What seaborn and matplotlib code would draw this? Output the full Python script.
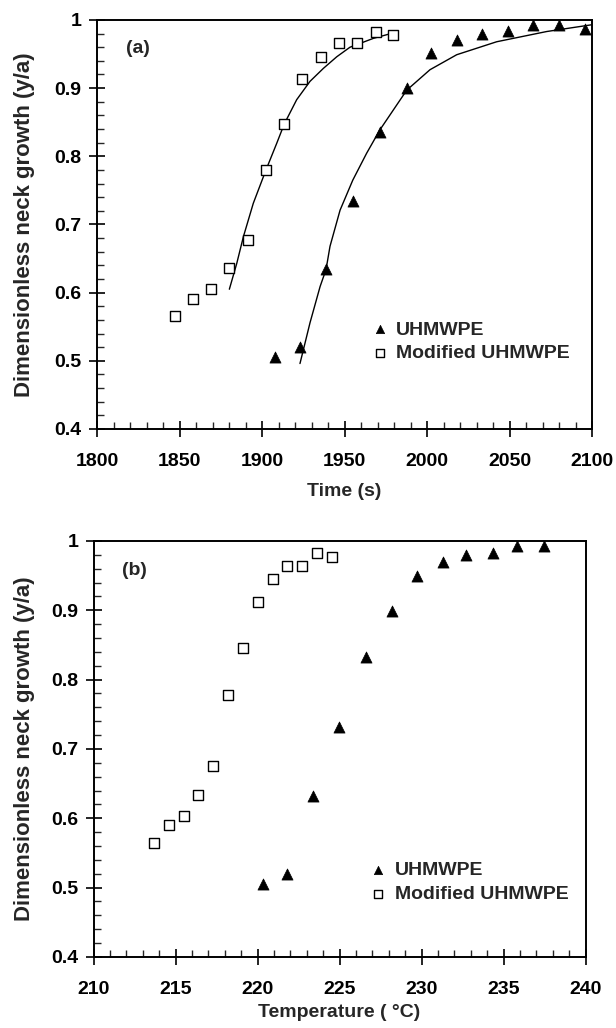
import numpy as np
import pandas as pd
import matplotlib
matplotlib.use("Agg")
import matplotlib.pyplot as plt
from matplotlib.ticker import MultipleLocator, FixedLocator, FixedFormatter
import seaborn as sns

# ---------------- data ----------------
# Panel (a): neck growth vs time
time_uhmwpe = [1907.9, 1923.0, 1938.8, 1955.0, 1971.5, 1987.7, 2002.4,
               2018.4, 2033.5, 2048.9, 2064.4, 2079.8, 2095.8]
ng_uhmwpe_a = [0.505, 0.520, 0.634, 0.735, 0.836, 0.900, 0.951,
               0.971, 0.980, 0.984, 0.992, 0.992, 0.986]
time_mod = [1847.3, 1858.4, 1869.1, 1880.2, 1891.3, 1902.4, 1913.5,
            1924.4, 1935.6, 1946.7, 1957.4, 1968.9, 1979.2]
ng_mod_a = [0.566, 0.590, 0.605, 0.636, 0.677, 0.780, 0.847,
            0.913, 0.946, 0.966, 0.966, 0.983, 0.978]

# fitted model curves
fit_time_mod = [1880.2, 1884.7, 1888.7, 1894.7, 1902.4, 1908.9, 1913.5,
                1921.0, 1929.1, 1937.2, 1945.3, 1953.3, 1967.5, 1979.6]
fit_ng_mod = [0.605, 0.643, 0.682, 0.731, 0.780, 0.819, 0.8475,
              0.883, 0.910, 0.929, 0.946, 0.960, 0.973, 0.981]
fit_time_uhmwpe = [1923.0, 1929.1, 1935.2, 1938.8, 1941.2, 1947.3, 1955.0,
                   1963.4, 1971.5, 1987.7, 2001.8, 2018.0, 2042.2, 2072.5, 2100.0]
fit_ng_uhmwpe = [0.496, 0.556, 0.609, 0.634, 0.668, 0.721, 0.765,
                 0.8045, 0.839, 0.897, 0.927, 0.949, 0.968, 0.983, 0.993]

# Panel (b): neck growth vs temperature
temp_uhmwpe = [220.31, 221.80, 223.36, 224.99, 226.61, 228.18,
               229.70, 231.33, 232.71, 234.38, 235.85, 237.49]
ng_uhmwpe_b = [0.505, 0.520, 0.632, 0.732, 0.833, 0.899,
               0.950, 0.970, 0.980, 0.983, 0.992, 0.992]
temp_mod = [213.70, 214.59, 215.51, 216.38, 217.30, 218.21, 219.13,
            220.04, 220.92, 221.81, 222.71, 223.64, 224.54]
ng_mod_b = [0.565, 0.590, 0.604, 0.634, 0.675, 0.778, 0.846,
            0.912, 0.945, 0.964, 0.964, 0.982, 0.977]

series_names = ["UHMWPE", "Modified UHMWPE"]
y_ticks = [0.4, 0.5, 0.6, 0.7, 0.8, 0.9, 1.0]
y_tick_labels = ["0.4", "0.5", "0.6", "0.7", "0.8", "0.9", "1"]
x_ticks_a = [1800, 1850, 1900, 1950, 2000, 2050, 2100]
x_ticks_b = [210, 215, 220, 225, 230, 235, 240]

# ---------------- style ----------------
sns.set_style("ticks")
plt.rcParams["font.family"] = ["Liberation Sans", "DejaVu Sans"]
plt.rcParams["font.weight"] = "bold"
plt.rcParams["axes.labelweight"] = "bold"

FS = 14
FS_Y = 16
fig = plt.figure(figsize=(6.16, 10.28), dpi=100)
ax1 = fig.add_axes([0.1575, 0.5827, 0.8036, 0.3979])
ax2 = fig.add_axes([0.1521, 0.0691, 0.7984, 0.4047])


def draw_points(ax, xu, yu, xm, ym):
    sns.scatterplot(x=xu, y=yu, ax=ax, marker="^", s=64, color="black",
                    edgecolor="black", linewidth=0.5, label=series_names[0],
                    legend=False, zorder=3)
    sns.scatterplot(x=xm, y=ym, ax=ax, marker="s", s=50, facecolor="white",
                    edgecolor="black", linewidth=1.0, label=series_names[1],
                    legend=False, zorder=3)


def style_axes(ax, xticks, xminor, xlabel, panel, legend_anchor, xlab_y, ylab_x):
    ax.set_xlim(xticks[0], xticks[-1])
    ax.set_ylim(0.4, 1.0)
    ax.xaxis.set_major_locator(FixedLocator(xticks))
    ax.xaxis.set_minor_locator(MultipleLocator(xminor))
    ax.yaxis.set_major_locator(FixedLocator(y_ticks))
    ax.yaxis.set_major_formatter(FixedFormatter(y_tick_labels))
    ax.yaxis.set_minor_locator(MultipleLocator(0.02))
    ax.tick_params(which="major", direction="inout", length=12, width=1.2,
                   labelsize=FS, colors="black")
    ax.tick_params(axis="x", which="major", pad=11)
    ax.tick_params(axis="y", which="major", pad=5)
    ax.tick_params(which="minor", direction="in", length=5, width=1.0)
    for lab in ax.get_xticklabels() + ax.get_yticklabels():
        lab.set_fontweight("bold")
    for sp in ax.spines.values():
        sp.set_visible(True)
        sp.set_linewidth(1.4)
        sp.set_color("black")
    ax.set_xlabel(xlabel, fontsize=FS, fontweight="bold")
    ax.set_ylabel("Dimensionless neck growth (y/a)", fontsize=FS_Y, fontweight="bold")
    ax.xaxis.set_label_coords(0.5, xlab_y)
    ax.yaxis.set_label_coords(ylab_x, 0.5)
    ax.text(0.058, 0.93, panel, transform=ax.transAxes, fontsize=FS,
            fontweight="bold", va="center", ha="left")
    leg = ax.legend(loc="center left", bbox_to_anchor=legend_anchor,
                    frameon=False, fontsize=FS, handlelength=0.8,
                    handletextpad=0.45, labelspacing=0.3, markerscale=0.75,
                    borderpad=0.0, borderaxespad=0.0)
    for t in leg.get_texts():
        t.set_fontweight("bold")


# Panel (a)
draw_points(ax1, time_uhmwpe, ng_uhmwpe_a, time_mod, ng_mod_a)
sns.lineplot(x=fit_time_mod, y=fit_ng_mod, ax=ax1, color="black",
             linewidth=1.0, sort=False, estimator=None, zorder=2)
sns.lineplot(x=fit_time_uhmwpe, y=fit_ng_uhmwpe, ax=ax1, color="black",
             linewidth=1.0, sort=False, estimator=None, zorder=2)
style_axes(ax1, x_ticks_a, 10, "Time (s)", "(a)", (0.555, 0.214), -0.132, -0.126)

# Panel (b)
draw_points(ax2, temp_uhmwpe, ng_uhmwpe_b, temp_mod, ng_mod_b)
style_axes(ax2, x_ticks_b, 1, "Temperature ( \u00b0C)", "(b)", (0.563, 0.18), -0.113, -0.119)

fig.savefig("out.png", dpi=100, facecolor="white")
